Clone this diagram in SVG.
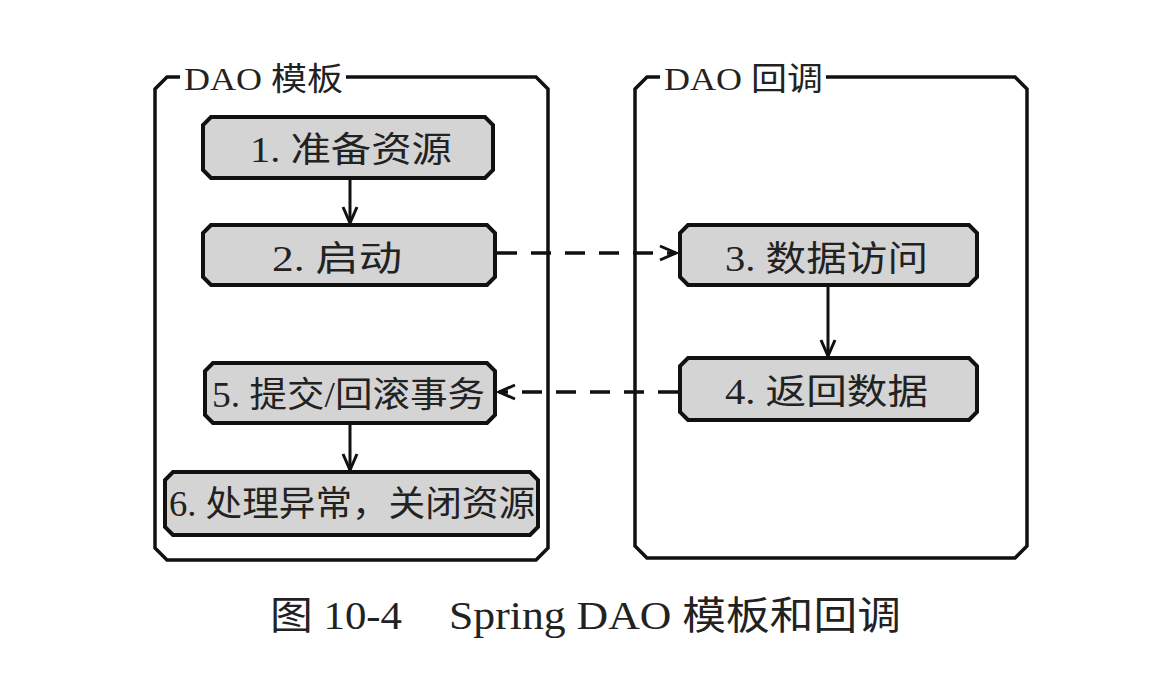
<svg xmlns="http://www.w3.org/2000/svg" width="1166" height="678" viewBox="0 0 1166 678">
<style>
.cont{fill:#fff;stroke:#111;stroke-width:3.5}
.box{fill:#d4d4d4;stroke:#111;stroke-width:4}
.t{font-family:"Liberation Serif","Noto Sans CJK SC",serif;fill:#222}
.bt{font-size:35px}
.lt{font-size:32px}
.cap{font-size:39px}
.solid{stroke:#111;stroke-width:3;fill:none}
.dash{stroke:#111;stroke-width:3.5;fill:none;stroke-dasharray:20 14}
</style>
<defs>
<marker id="ah" viewBox="0 0 20 20" refX="18" refY="10" markerWidth="20" markerHeight="20" markerUnits="userSpaceOnUse" orient="auto">
<path d="M2,3 L18,10 L2,17" fill="none" stroke="#111" stroke-width="3"/>
</marker>
</defs>
<g id="dao-template">
<path class="cont" d="M167,77 H536 L548,89 V548 L536,560 H167 L155,548 V89 Z"/>
<rect x="180" y="62" width="166" height="30" fill="#fff"/>
<text class="t lt" x="184" y="90" textLength="159" lengthAdjust="spacingAndGlyphs">DAO 模板</text>
</g>
<g id="dao-callback">
<path class="cont" d="M647,77 H1015 L1027,89 V546 L1015,558 H647 L635,546 V89 Z"/>
<rect x="660" y="62" width="166" height="30" fill="#fff"/>
<text class="t lt" x="664" y="90" textLength="159" lengthAdjust="spacingAndGlyphs">DAO 回调</text>
</g>
<g id="n1">
<path class="box" d="M211,117 H485 L493,125 V170 L485,178 H211 L203,170 V125 Z"/>
<text class="t bt" x="250" y="162" textLength="202" lengthAdjust="spacingAndGlyphs">1. 准备资源</text>
</g>
<g id="n2">
<path class="box" d="M211,225 H487 L495,233 V277 L487,285 H211 L203,277 V233 Z"/>
<text class="t bt" x="272" y="271" textLength="130" lengthAdjust="spacingAndGlyphs">2. 启动</text>
</g>
<g id="n3">
<path class="box" d="M688,225 H969 L977,233 V277 L969,285 H688 L680,277 V233 Z"/>
<text class="t bt" x="725" y="271" textLength="203" lengthAdjust="spacingAndGlyphs">3. 数据访问</text>
</g>
<g id="n4">
<path class="box" d="M688,358 H969 L977,366 V412 L969,420 H688 L680,412 V366 Z"/>
<text class="t bt" x="725" y="404" textLength="203" lengthAdjust="spacingAndGlyphs">4. 返回数据</text>
</g>
<g id="n5">
<path class="box" d="M213,363 H487 L495,371 V415 L487,423 H213 L205,415 V371 Z"/>
<text class="t bt" x="212" y="407" textLength="273" lengthAdjust="spacingAndGlyphs">5. 提交/回滚事务</text>
</g>
<g id="n6">
<path class="box" d="M173,472 H530 L538,480 V527 L530,535 H173 L165,527 V480 Z"/>
<text class="t bt" x="169" y="516" textLength="366" lengthAdjust="spacingAndGlyphs">6. 处理异常，关闭资源</text>
</g>
<g id="connectors">
<line class="solid" x1="350" y1="180" x2="350" y2="223" marker-end="url(#ah)"/>
<line class="solid" x1="828" y1="287" x2="828" y2="356" marker-end="url(#ah)"/>
<line class="solid" x1="350" y1="425" x2="350" y2="470" marker-end="url(#ah)"/>
<line class="dash" x1="497" y1="253" x2="676" y2="253" marker-end="url(#ah)"/>
<line class="dash" x1="678" y1="392" x2="499" y2="392" marker-end="url(#ah)"/>
</g>
<g id="caption">
<text class="t cap" x="270" y="629" textLength="132" lengthAdjust="spacingAndGlyphs">图 10-4</text>
<text class="t cap" x="449" y="629" textLength="452" lengthAdjust="spacingAndGlyphs">Spring DAO 模板和回调</text>
</g>
</svg>
